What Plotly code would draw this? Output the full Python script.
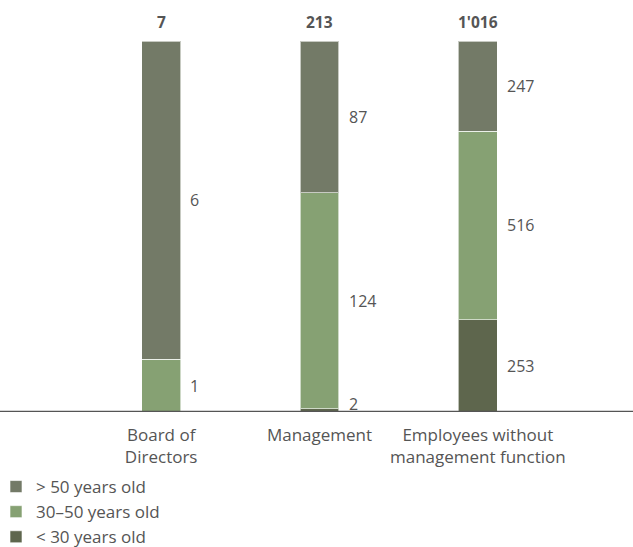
import plotly.graph_objects as go

categories = ["Board of<br>Directors", "Management", "Employees without<br>management function"]
series_names = ["< 30 years old", "30–50 years old", "> 50 years old"]
under_30 = [0, 2, 253]
from_30_to_50 = [1, 124, 516]
over_50 = [6, 87, 247]
totals = [7, 213, 1016]
total_labels = ["7", "213", "1'016"]

colors = ["#5e664d", "#86a173", "#737a67"]
series_values = [under_30, from_30_to_50, over_50]

FONT = "Open Sans"
GRAY = "#555555"

ML, MR, MT, MB = 82, 76, 41, 135
W, H = 633, 547
PW = W - ML - MR
PH = H - MT - MB

fig = go.Figure()
for name, vals, col in zip(series_names, series_values, colors):
    pct = [v / t * 100 for v, t in zip(vals, totals)]
    fig.add_trace(go.Bar(
        x=categories, y=pct, name=name,
        marker=dict(color=col, line=dict(color="rgba(255,255,255,0.6)", width=1)),
        hoverinfo="skip",
    ))

annotations = []
for ci, cat in enumerate(categories):
    base = 0.0
    for vals in series_values:
        v = vals[ci]
        p = v / totals[ci] * 100
        if v > 0:
            mid = max(base + p / 2, 2.2)
            annotations.append(dict(
                x=cat, y=mid, xref="x", yref="y", text=str(v), showarrow=False,
                xanchor="left", yanchor="middle", xshift=27,
                font=dict(family=FONT, size=16, color=GRAY),
            ))
        base += p
    annotations.append(dict(
        x=cat, y=100, xref="x", yref="y", text="<b>%s</b>" % total_labels[ci],
        showarrow=False, xanchor="center", yanchor="bottom", yshift=6,
        font=dict(family=FONT, size=15.5, color=GRAY),
    ))

fig.update_layout(
    width=W, height=H,
    margin=dict(l=ML, r=MR, t=MT, b=MB, autoexpand=False),
    barmode="stack",
    bargap=0.754,
    plot_bgcolor="white",
    paper_bgcolor="white",
    font=dict(family=FONT, size=17, color=GRAY),
    showlegend=True,
    legend=dict(
        orientation="v", x=-(ML + 4) / PW, y=-(469 - (MT + PH)) / PH, xanchor="left", yanchor="top",
        traceorder="reversed", font=dict(family=FONT, size=17, color=GRAY),
        bgcolor="rgba(0,0,0,0)", tracegroupgap=0,
    ),
    xaxis=dict(showgrid=False, showline=False, zeroline=False, ticks="", automargin=False,
               tickfont=dict(family=FONT, size=17, color=GRAY), ticklabelstandoff=11),
    yaxis=dict(range=[0, 100], visible=False, showgrid=False, zeroline=False, automargin=False),
    annotations=annotations,
    shapes=[dict(type="line", xref="paper", yref="y", x0=-0.2, x1=1.2, y0=0, y1=0,
                 line=dict(color="#555555", width=2.5), layer="above")],
)

fig.write_html("out.html")
